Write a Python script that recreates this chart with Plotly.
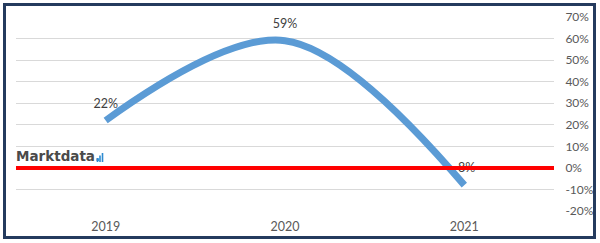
import plotly.graph_objects as go

years = ["2019", "2020", "2021"]
growth = [0.22, 0.59, -0.08]
labels = ["22%", "59%", "-8%"]
y_ticks = [-0.2, -0.1, 0.0, 0.1, 0.2, 0.3, 0.4, 0.5, 0.6, 0.7]
y_tick_text = ["-20%", "-10%", "0%", "10%", "20%", "30%", "40%", "50%", "60%", "70%"]

W, H = 600, 243
L, R, T, B = 16, 46, 17, 32
pw, ph = W - L - R, H - T - B

def px(x):
    return (x - L) / pw

def py(y):
    return (H - B - y) / ph

fig = go.Figure()
fig.add_trace(go.Scatter(
    x=years, y=growth, mode="lines",
    line=dict(color="#5B9BD5", width=7, shape="spline", smoothing=1.0),
    hoverinfo="skip", showlegend=False,
))
fig.add_trace(go.Scatter(
    x=years, y=growth, mode="markers+text", text=labels,
    textposition="top center",
    marker=dict(size=14, color="rgba(0,0,0,0)"),
    textfont=dict(family="Lato, sans-serif", size=12.5, color="#404040"),
    hoverinfo="skip", showlegend=False,
))

shapes = [
    dict(type="line", xref="paper", yref="y", x0=0, x1=1, y0=0, y1=0,
         line=dict(color="#FF0000", width=4), layer="above"),
    dict(type="rect", xref="paper", yref="paper",
         x0=px(4.5), x1=px(594.5), y0=py(237.5), y1=py(4.5),
         line=dict(color="#243B5E", width=3), layer="above"),
]
# logo bars
for bx, bh in [(97.5, 4), (100, 6.5), (102.5, 9)]:
    shapes.append(dict(type="line", xref="paper", yref="paper",
                       x0=px(bx), x1=px(bx), y0=py(162), y1=py(162 - bh),
                       line=dict(color="#2E8BD0", width=1.6), layer="above"))

fig.update_layout(
    width=W, height=H,
    margin=dict(l=L, r=R, t=T, b=B),
    paper_bgcolor="white", plot_bgcolor="white",
    font=dict(family="Lato, sans-serif", size=12, color="#595959"),
    xaxis=dict(range=[-0.5, 2.5], showgrid=False, zeroline=False, showline=False,
               ticks="outside", ticklen=4, tickcolor="rgba(0,0,0,0)", automargin=False,
               tickfont=dict(size=12.5, color="#595959")),
    yaxis=dict(side="right", range=[-0.2, 0.7], tickvals=y_ticks, ticktext=y_tick_text,
               showgrid=True, gridcolor="#D9D9D9", gridwidth=1, zeroline=False,
               showline=False, ticks="outside", ticklen=8, tickcolor="rgba(0,0,0,0)",
               automargin=False, tickfont=dict(size=12, color="#595959")),
    shapes=shapes,
    annotations=[
        dict(xref="paper", yref="paper", x=px(16), y=py(162), xanchor="left", yanchor="bottom",
             text="<b>Marktdata</b><span style='color:#2E8BD0'><b>.</b></span>",
             showarrow=False, font=dict(family="DejaVu Sans", size=13.5, color="#4A4A4A"),
             xshift=-2, yshift=-4),
    ],
)

fig.write_html("out.html")
